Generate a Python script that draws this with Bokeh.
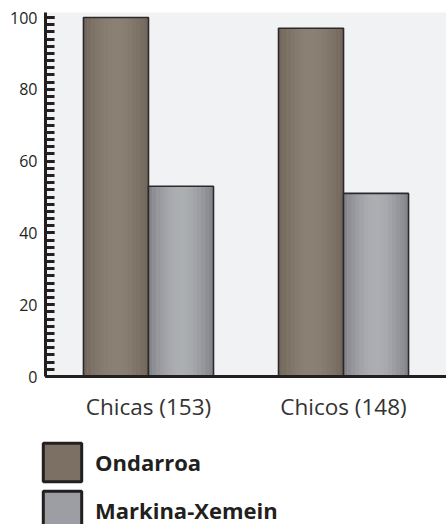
import math
from bokeh.plotting import figure
from bokeh.layouts import column, row
from bokeh.models import (FactorRange, Range1d, SingleIntervalTicker, Legend,
                          LegendItem, ColumnDataSource)
from bokeh.transform import dodge
from bokeh.embed import file_html
from bokeh.resources import INLINE

# ---- data ----
categories = ["Chicas (153)", "Chicos (148)"]
series = ["Ondarroa", "Markina-Xemein"]
ondarroa = [100, 97]
markina = [53, 51]

# ---- styling ----
edge_cols = [(112, 101, 88), (128, 130, 136)]
mid_cols = [(138, 128, 116), (172, 174, 178)]
flat_cols = ["#7b7063", "#9c9ea3"]
dark = "#231f20"
N = 16
bw = 1.0 / 3.0

src = ColumnDataSource(dict(cat=categories, Ondarroa=ondarroa, Markina=markina))
fields = ["Ondarroa", "Markina"]

p = figure(width=446, height=436,
           x_range=FactorRange(*categories, range_padding=0.028),
           y_range=Range1d(0, 101.4),
           output_backend="svg", toolbar_location=None,
           min_border_left=45, min_border_right=0, min_border_top=12,
           min_border_bottom=60)
p.background_fill_color = "#f1f2f4"
p.border_fill_color = "white"
p.outline_line_color = None
p.xgrid.visible = False
p.ygrid.visible = False


def mix(a, b, t):
    return "#%02x%02x%02x" % tuple(int(round(a[i] + (b[i] - a[i]) * t)) for i in range(3))


for si, f in enumerate(fields):
    center = (-0.5 + si) * bw
    sw = bw / N
    for k in range(N):
        t = (k + 0.5) / N
        col = mix(edge_cols[si], mid_cols[si], math.sin(math.pi * t))
        off = center - bw / 2 + (k + 0.5) * sw
        p.vbar(x=dodge("cat", off, range=p.x_range), top=f, width=sw * 1.15,
               source=src, fill_color=col, line_color=None)
    p.vbar(x=dodge("cat", center, range=p.x_range), top=f, width=bw,
           source=src, fill_color=None, line_color="#2a2a2a", line_width=1.6)

# y axis
ya = p.yaxis[0]
ya.ticker = SingleIntervalTicker(interval=20, num_minor_ticks=10)
ya.axis_line_width = 3
ya.axis_line_color = dark
ya.major_tick_in = 9
ya.major_tick_out = 0
ya.minor_tick_in = 9
ya.minor_tick_out = 0
ya.major_tick_line_width = 3
ya.minor_tick_line_width = 3
ya.major_tick_line_color = dark
ya.minor_tick_line_color = dark
ya.major_label_text_font = "Open Sans"
ya.major_label_text_font_size = "16px"
ya.major_label_text_color = dark
ya.major_label_standoff = 8

# x axis
xa = p.xaxis[0]
xa.axis_line_width = 3
xa.axis_line_color = dark
xa.major_tick_in = 0
xa.major_tick_out = 0
xa.major_label_text_font = "Open Sans"
xa.major_label_text_font_size = "22.5px"
xa.major_label_text_color = "#333333"
xa.major_label_standoff = 14

# ---- legend strip ----
lg = figure(width=446, height=88, x_range=Range1d(0, 1), y_range=Range1d(0, 1),
            output_backend="svg", toolbar_location=None,
            x_axis_location=None, y_axis_location=None,
            min_border_left=38, min_border_right=0, min_border_top=2,
            min_border_bottom=0)
lg.outline_line_color = None
lg.background_fill_color = "white"
lg.border_fill_color = "white"
lg.xgrid.visible = False
lg.ygrid.visible = False

legend_items = []
for si in range(len(series)):
    # a single swatch-only point placed outside the visible range
    swatch = ColumnDataSource(dict(x=[5.0], top=[0.0]))
    lr = lg.vbar(x="x", top="top", width=0.1, source=swatch,
                 fill_color=flat_cols[si], line_color=dark, line_width=3)
    legend_items.append(LegendItem(label=series[si], renderers=[lr]))

legend = Legend(items=legend_items, location="top_left",
                glyph_width=48, glyph_height=48, spacing=0, label_standoff=9,
                padding=0, margin=0, border_line_color=None,
                background_fill_alpha=0,
                label_text_font="Open Sans", label_text_font_style="bold",
                label_text_font_size="22px", label_text_color=dark)
lg.add_layout(legend)

layout = column(p, row(lg, spacing=0), spacing=0)
open("out.html", "w").write(file_html(layout, INLINE))
